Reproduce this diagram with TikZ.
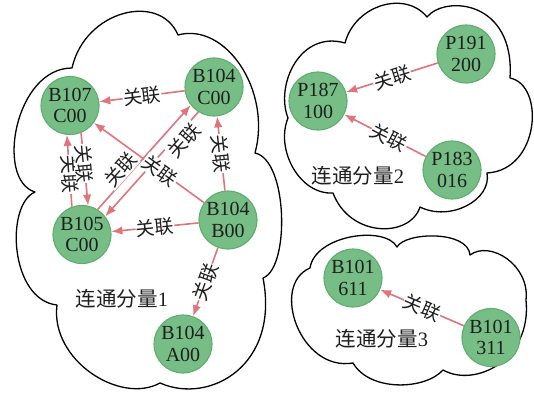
\documentclass[tikz,border=0pt]{standalone}
\usepackage{fontspec}
\setmainfont{Liberation Serif}
\newfontfamily\cjk{Noto Sans CJK SC}
\usetikzlibrary{arrows.meta}
\definecolor{nodefill}{HTML}{76BE86}
\definecolor{nodeline}{HTML}{5DAE6D}
\definecolor{linkred}{HTML}{E0747A}
\definecolor{txt}{HTML}{1E1E1E}

\begin{document}
\begin{tikzpicture}[x=1pt,y=-1pt,
  entity/.style={circle, draw=nodeline, fill=nodefill, line width=1.1pt,
    minimum size=58pt, inner sep=0pt, align=center, text=txt,
    font=\fontsize{20}{21.5}\selectfont},
  link/.style={draw=linkred, line width=1.6pt, -{Latex[length=11pt,width=8.5pt]}},
  rel/.style={sloped, fill=white, inner sep=0.5pt, text=txt,
    font=\cjk\fontsize{19}{19}\selectfont},
  cloudline/.style={draw=black, line width=1.3pt, line join=round},
  group/.style={text=txt, font=\fontsize{20.5}{20.5}\selectfont}]

\useasboundingbox (0,0) rectangle (534,393);

% cloud outlines of the three connected components
\path[cloudline] (72,68)
  .. controls (85,10) and (160,-8) .. (178,35)
  .. controls (225,22) and (272,90) .. (255,153)
  .. controls (288,160) and (290,268) .. (263,278)
  .. controls (280,365) and (210,405) .. (160,383)
  .. controls (120,405) and (50,360) .. (57,305)
  .. controls (10,300) and (5,205) .. (35,192)
  .. controls (-5,180) and (15,68) .. (72,68) -- cycle;

\path[cloudline] (345,43)
  .. controls (355,5) and (405,-10) .. (427,17)
  .. controls (445,-5) and (515,0) .. (510,78)
  .. controls (545,85) and (540,170) .. (487,173)
  .. controls (492,200) and (450,222) .. (420,207)
  .. controls (410,238) and (350,238) .. (333,193)
  .. controls (300,195) and (275,150) .. (288,118)
  .. controls (275,85) and (300,30) .. (345,43) -- cycle;

\path[cloudline] (310,268)
  .. controls (315,235) and (385,225) .. (397,247)
  .. controls (405,232) and (468,230) .. (470,255)
  .. controls (490,240) and (530,265) .. (526,300)
  .. controls (532,360) and (475,388) .. (443,370)
  .. controls (425,390) and (370,392) .. (353,363)
  .. controls (300,372) and (270,285) .. (310,268) -- cycle;

% component 1
\node[entity] (b107c) at (70,105.5) {B107\\C00};
\node[entity] (b104c) at (214,87) {B104\\C00};
\node[entity] (b105c) at (82,234.5) {B105\\C00};
\node[entity] (b104b) at (228,220) {B104\\B00};
\node[entity] (b104a) at (183,344) {B104\\A00};
\node[group] (g1) at (122,299) {{\cjk 连通分量}1};

% component 2
\node[entity] (p187) at (318,101) {P187\\100};
\node[entity] (p191) at (466,54) {P191\\200};
\node[entity] (p183) at (452,170) {P183\\016};
\node[group] (g2) at (358,176) {{\cjk 连通分量}2};

% component 3
\node[entity] (b101a) at (353,278) {B101\\611};
\node[entity] (b101b) at (491,337.5) {B101\\311};
\node[group] (g3) at (382,339) {{\cjk 连通分量}3};

% relations
\draw[link] (b104c) -- node[rel,pos=0.5] {关联} (b107c);
\draw[link] (b105c.110) -- node[rel,pos=0.45] {关联} (b107c.264);
\draw[link] (b107c.292) -- node[rel,pos=0.42] {关联} (b105c.78);
\draw[link] (b105c.58) -- node[rel,pos=0.32,above=-1pt] {关联} (b104c.218);
\draw[link] (b104c.238) -- node[rel,pos=0.22,below=-2pt] {关联} (b105c.38);
\draw[link] (b104b) -- node[rel,pos=0.4] {关联} (b107c);
\draw[link] (b104b) -- node[rel,pos=0.5] {关联} (b105c);
\draw[link] (b104b) -- node[rel,pos=0.5] {关联} (b104c);
\draw[link] (b104b) -- node[rel,pos=0.5] {关联} (b104a);

\draw[link] (p191) -- node[rel,pos=0.5] {关联} (p187);
\draw[link] (p183) -- node[rel,pos=0.45] {关联} (p187);

\draw[link] (b101b) -- node[rel,pos=0.5] {关联} (b101a);
\end{tikzpicture}
\end{document}
